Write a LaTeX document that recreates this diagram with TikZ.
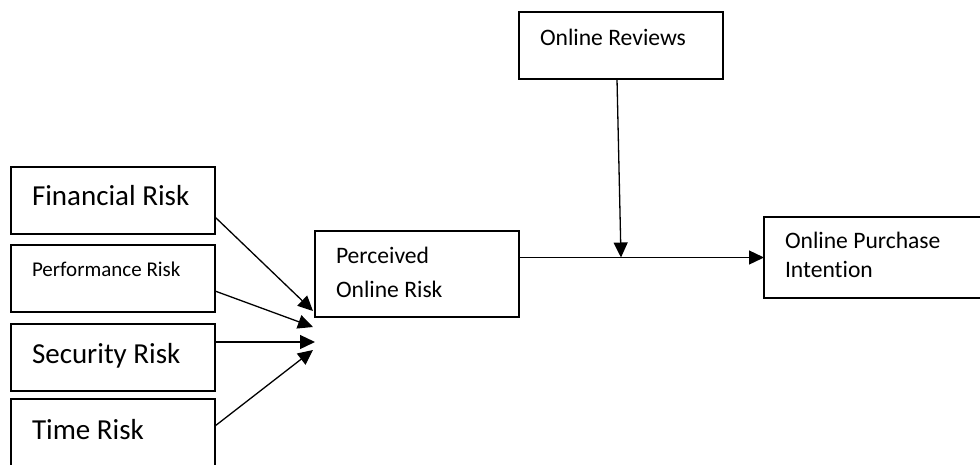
\documentclass[tikz,border=0pt]{standalone}
\usepackage{fontspec}
\setmainfont{Carlito}[Ligatures=NoCommon]
\usetikzlibrary{arrows.meta,positioning,calc}

\begin{document}
\begin{tikzpicture}[
        x=1pt, y=-1pt,
        node distance=11pt and 11pt,
        box/.style={rectangle,draw,line width=1.6pt,outer sep=0pt,inner xsep=21pt,inner ysep=0pt,
            text width=162pt,align=left,anchor=north west,
            execute at begin node={\spaceskip=0pt\xspaceskip=0pt}},
        big/.style={font=\fontsize{29}{34}\selectfont},
        mid/.style={font=\fontsize{23.6}{34}\selectfont},
        small/.style={font=\fontsize{21}{26}\selectfont},
        arrow/.style={-{Triangle[length=15pt,width=14pt]},line width=1.3pt}
    ]
        \useasboundingbox (0,0) rectangle (980,464);

        \node[box, big, text height=38pt, text depth=29pt] (financial) at (11,167) {Financial Risk};
        \node[box, small, text height=31pt, text depth=36pt, below=11pt of financial.south west, anchor=north west] (performance) {Performance Risk};
        \node[box, big, text height=39pt, text depth=28pt, below=12pt of performance.south west, anchor=north west] (security) {Security Risk};
        \node[box, big, text height=40pt, text depth=27pt, below=8pt of security.south west, anchor=north west] (time) {Time Risk};

        \node[box, mid, text height=32pt, text depth=54pt] (perceived) at (315,231) {Perceived\\Online Risk};
        \node[box, mid, text height=33pt, text depth=34pt] (reviews) at (519,12) {Online Reviews};
        \node[box, mid, text width=184pt, text height=31pt, text depth=50pt, font=\fontsize{23.6}{29}\selectfont] (purchase) at (764,217) {Online Purchase\\Intention};

        \coordinate (tipF) at ($(perceived.south west)+(-2,-6)$);
        \coordinate (tipP) at ($(perceived.south west)+(-2,10)$);
        \coordinate (tipS) at ($(perceived.south west)+(0,25)$);
        \coordinate (tipT) at ($(perceived.south west)+(-2,33)$);
        \coordinate (join) at (reviews.south |- purchase.west);

        \draw[arrow] ([yshift=-50pt]financial.north east) -- (tipF);
        \draw[arrow] ([yshift=-46pt]performance.north east) -- (tipP);
        \draw[arrow] ([yshift=-18pt]security.north east) -- (tipS);
        \draw[arrow] ([yshift=-27pt]time.north east) -- (tipT);

        \draw[arrow] (perceived.east |- purchase.west) -- (purchase.west);
        \draw[arrow] ([xshift=-4pt]reviews.south) -- (join);
    \end{tikzpicture}
\end{document}
